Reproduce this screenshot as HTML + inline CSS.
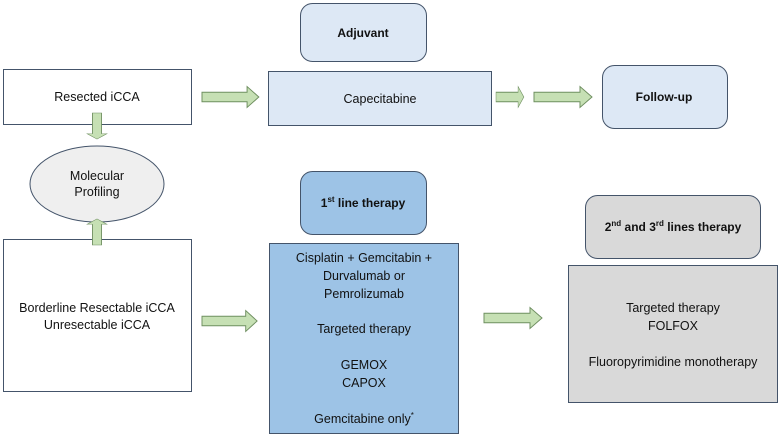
<!DOCTYPE html>
<html><head><meta charset="utf-8"><style>
html,body{margin:0;padding:0;background:#fff;}
svg{display:block;font-family:"Liberation Sans",sans-serif;}
</style></head><body>
<svg width="780" height="436" viewBox="0 0 780 436" xmlns="http://www.w3.org/2000/svg">
<defs>
<g id="ar"><polygon points="0,-5 46,-5 46,-11 58,0 46,11 46,5 0,5" fill="#c6e0b4" stroke="#6f8f60" stroke-width="1"/></g>
</defs>
<g stroke="#44546a" stroke-width="1">
<rect x="3.5" y="69.5" width="188" height="55" fill="#fff"/>
<rect x="3.5" y="239.5" width="188" height="152" fill="#fff"/>
<ellipse cx="97" cy="184" rx="67" ry="38" fill="#efefef"/>
<rect x="300.5" y="3.5" width="126" height="58" rx="12" fill="#dde8f5"/>
<rect x="268.5" y="71.5" width="223" height="54" fill="#dde8f5"/>
<rect x="602.5" y="65.5" width="125" height="63" rx="12" fill="#dde8f5"/>
<rect x="300.5" y="171.5" width="126" height="63" rx="12" fill="#9dc3e6"/>
<rect x="269.5" y="243.5" width="189" height="190" fill="#9dc3e6"/>
<rect x="585.5" y="195.5" width="175" height="63" rx="12" fill="#d9d9d9"/>
<rect x="568.5" y="265.5" width="209" height="137" fill="#d9d9d9"/>
</g>
<use href="#ar" transform="translate(202,97) scale(0.98,0.95)"/>
<use href="#ar" transform="translate(496,97) scale(0.48,0.95)"/>
<use href="#ar" transform="translate(534,97) scale(1,0.95)"/>
<use href="#ar" transform="translate(202,321) scale(0.95,0.95)"/>
<use href="#ar" transform="translate(484,318) scale(1,0.95)"/>
<use href="#ar" transform="translate(97,113) rotate(90) scale(0.45,0.9)"/>
<use href="#ar" transform="translate(97,245) rotate(-90) scale(0.45,0.9)"/>
<g font-size="12.5" text-anchor="middle" fill="#111">
<text x="97" y="101">Resected iCCA</text>
<text x="97" y="180">Molecular</text>
<text x="97" y="196">Profiling</text>
<text x="97" y="312">Borderline Resectable iCCA</text>
<text x="97" y="329">Unresectable iCCA</text>
<text x="380" y="103">Capecitabine</text>
<text x="364" y="262">Cisplatin + Gemcitabin +</text>
<text x="364" y="280">Durvalumab or</text>
<text x="364" y="298">Pemrolizumab</text>
<text x="364" y="333">Targeted therapy</text>
<text x="364" y="369">GEMOX</text>
<text x="364" y="387">CAPOX</text>
<text x="364" y="423">Gemcitabine only<tspan font-size="8" dy="-5">*</tspan></text>
<text x="673" y="312">Targeted therapy</text>
<text x="673" y="330">FOLFOX</text>
<text x="673" y="366">Fluoropyrimidine monotherapy</text>
<g font-weight="bold" font-size="12">
<text x="363" y="37">Adjuvant</text>
<text x="664" y="101">Follow-up</text>
<text x="363" y="207">1<tspan font-size="8" dy="-5">st</tspan><tspan dy="5"> line therapy</tspan></text>
<text x="673" y="231">2<tspan font-size="8" dy="-5">nd</tspan><tspan dy="5"> and 3</tspan><tspan font-size="8" dy="-5">rd</tspan><tspan dy="5"> lines therapy</tspan></text>
</g>
</g>
</svg>
</body></html>
